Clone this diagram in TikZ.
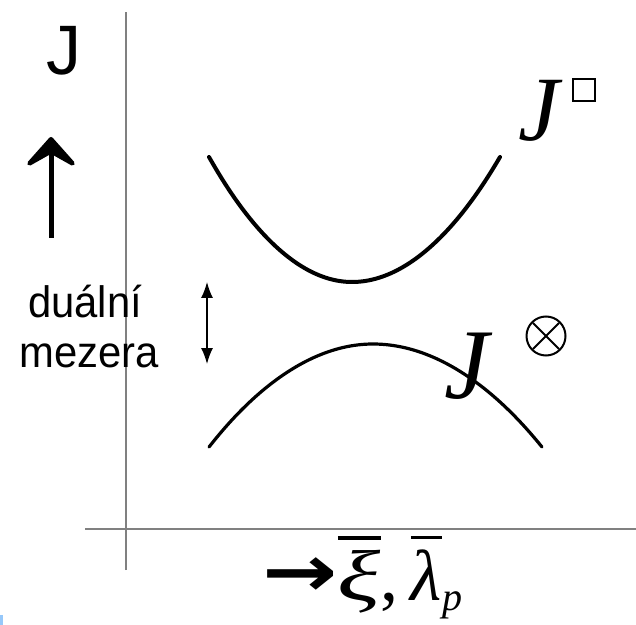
\documentclass[tikz,border=0pt]{standalone}
\usepackage{amsmath,amssymb}
\usepackage{fontspec}
\newfontfamily\arialfont{Liberation Sans}
\newfontfamily\timesfont{Liberation Serif}
\newfontfamily\dejavufont{DejaVu Sans}
\usetikzlibrary{arrows.meta}
\definecolor{edgeblue}{RGB}{150,200,250}
\newcommand\barred[1]{\leavevmode\vbox{\hrule height 1.6pt\kern 5pt\hbox{#1}}}

\begin{document}
\begin{tikzpicture}[x=0.5pt,y=-0.5pt,
  axisline/.style={gray,line width=0.6pt},
  curve/.style={line width=1.8pt,line cap=round},
  lbl/.style={inner sep=0pt,anchor=base west},
  gaplbl/.style={anchor=base,inner sep=0pt,font=\arialfont\fontsize{22}{24}\selectfont}]
\useasboundingbox (0,0) rectangle (636,625);
\coordinate (yaxbot) at (126,570);
\coordinate (yaxtop) at (126,12);
\coordinate (xaxleft) at (85,529);
\coordinate (xaxright) at (636,529);
\draw[axisline] (yaxbot) -- (yaxtop);
\draw[axisline] (xaxleft) -- (xaxright);
\draw[curve,line width=2pt] (209,157) parabola bend (352,282) (500,157);
\draw[curve,line width=1.6pt] (209,447) parabola bend (373,344) (542,447);
\node[lbl,font=\arialfont\fontsize{35}{40}\selectfont] (jsans) at (46,75) {J};
\coordinate (upbot) at (51,238);
\coordinate (uptop) at (51,137);
\draw[line width=2.5pt,-{Stealth[length=18pt,width=32pt,inset=9pt,round]}] (upbot) -- (uptop);
\node[gaplbl] (dual) at (85,318) {\scalebox{0.95}[1]{duální}};
\node[gaplbl] (mez) at (89,367) {\scalebox{0.95}[1]{mezera}};
\coordinate (gaptop) at (207,282);
\coordinate (gapbot) at (207,364);
\draw[line width=0.7pt,{Latex[length=8pt,width=6pt]}-{Latex[length=8pt,width=6pt]}] (gaptop) -- (gapbot);
\node[lbl,font=\timesfont\itshape\fontsize{46}{50}\selectfont] (jbox) at (518,141) {J};
\node[draw,line width=1pt,minimum size=11pt,inner sep=0pt] (sq) at (584,90) {};
\node[lbl,font=\timesfont\itshape\fontsize{50}{56}\selectfont] (jcross) at (444,398) {J};
\node[draw,circle,line width=1pt,minimum size=19.5pt,inner sep=0pt] (otimes) at (546,336) {};
\draw[line width=1pt,shorten <=1pt,shorten >=1pt] (otimes.north west) -- (otimes.south east);
\draw[line width=1pt,shorten <=1pt,shorten >=1pt] (otimes.north east) -- (otimes.south west);
\node[lbl,font=\timesfont\fontsize{36}{40}\selectfont] (xlab) at (262,600)
  {\raisebox{2pt}{\scalebox{1.25}[1]{\dejavufont\bfseries →}}\barred{\itshape\scalebox{1.4}[1]{ξ}},\kern6pt\barred{\itshape λ}\raisebox{-5pt}{\fontsize{20}{20}\selectfont\itshape p}};
\fill[edgeblue] (0,615) rectangle (3,625);
\end{tikzpicture}
\end{document}
